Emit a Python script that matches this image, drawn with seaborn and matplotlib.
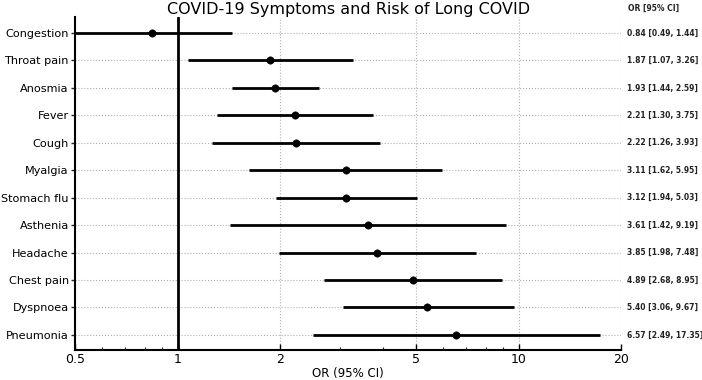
import matplotlib
matplotlib.use("Agg")
import matplotlib.pyplot as plt
import matplotlib.ticker as mticker
import seaborn as sns
import pandas as pd

symptoms = ["Congestion", "Throat pain", "Anosmia", "Fever", "Cough", "Myalgia",
            "Stomach flu", "Asthenia", "Headache", "Chest pain", "Dyspnoea", "Pneumonia"]
odds_ratio = [0.84, 1.87, 1.93, 2.21, 2.22, 3.11, 3.12, 3.61, 3.85, 4.89, 5.40, 6.57]
ci_low = [0.49, 1.07, 1.44, 1.30, 1.26, 1.62, 1.94, 1.42, 1.98, 2.68, 3.06, 2.49]
ci_high = [1.44, 3.26, 2.59, 3.75, 3.93, 5.95, 5.03, 9.19, 7.48, 8.95, 9.67, 17.35]
x_ticks = [0.5, 1, 2, 5, 10, 20]
x_tick_labels = ["0.5", "1", "2", "5", "10", "20"]

df = pd.DataFrame({"symptom": symptoms, "OR": odds_ratio, "lo": ci_low, "hi": ci_high})

sns.set_theme(style="white")
plt.rcParams["font.family"] = ["DejaVu Sans"]

fig = plt.figure(figsize=(7.02, 3.8), dpi=100)
ax = fig.add_axes([0.107, 0.079, 0.778, 0.876])

ax.set_xscale("log")
ypos = list(range(len(symptoms)))
ax.hlines(ypos, df["lo"], df["hi"], color="black", linewidth=2, zorder=3)
sns.scatterplot(x=df["OR"], y=ypos, ax=ax, color="black", s=28, edgecolor="black",
                zorder=4, legend=False)
ax.axvline(1, color="black", linewidth=2, zorder=2)

ax.set_xlim(0.5, 20)
ax.set_ylim(len(symptoms) - 1 + 0.55, -0.58)
ax.set_yticks(ypos)
ax.set_yticklabels(symptoms, fontsize=8.1, color="black")
ax.set_xticks(x_ticks)
ax.xaxis.set_major_formatter(mticker.FixedFormatter(x_tick_labels))
ax.xaxis.set_minor_formatter(mticker.NullFormatter())
ax.tick_params(axis="x", which="major", direction="in", length=4, width=1, labelsize=9,
               colors="black", bottom=True, pad=2)
ax.tick_params(axis="x", which="minor", direction="in", length=2, width=0.8, bottom=True)
ax.tick_params(axis="y", direction="out", length=3, width=1, left=True, pad=1.5)

ax.grid(True, which="major", axis="both", linestyle=":", color="#b0b0b0", linewidth=0.8)
ax.set_axisbelow(True)
for s in ["top", "right"]:
    ax.spines[s].set_visible(False)
for s in ["left", "bottom"]:
    ax.spines[s].set_color("black")
    ax.spines[s].set_linewidth(1.5)

ax.set_xlabel("OR (95% CI)", fontsize=8.5, color="black", labelpad=1)
ax.set_ylabel("")
ax.set_title("COVID-19 Symptoms and Risk of Long COVID", fontsize=11.5, color="black", pad=2)

for i, (o, l, h) in enumerate(zip(odds_ratio, ci_low, ci_high)):
    ax.annotate(f"{o:.2f} [{l:.2f}, {h:.2f}]", xy=(1.01, i), xycoords=("axes fraction", "data"),
                va="center", ha="left", fontsize=5.5, fontweight="bold", color="#222222",
                annotation_clip=False)
fig.text(0.895, 0.978, "OR [95% CI]", ha="left", va="center", fontsize=5.5,
         fontweight="bold", color="#222222")

fig.savefig("out.png", dpi=100)
